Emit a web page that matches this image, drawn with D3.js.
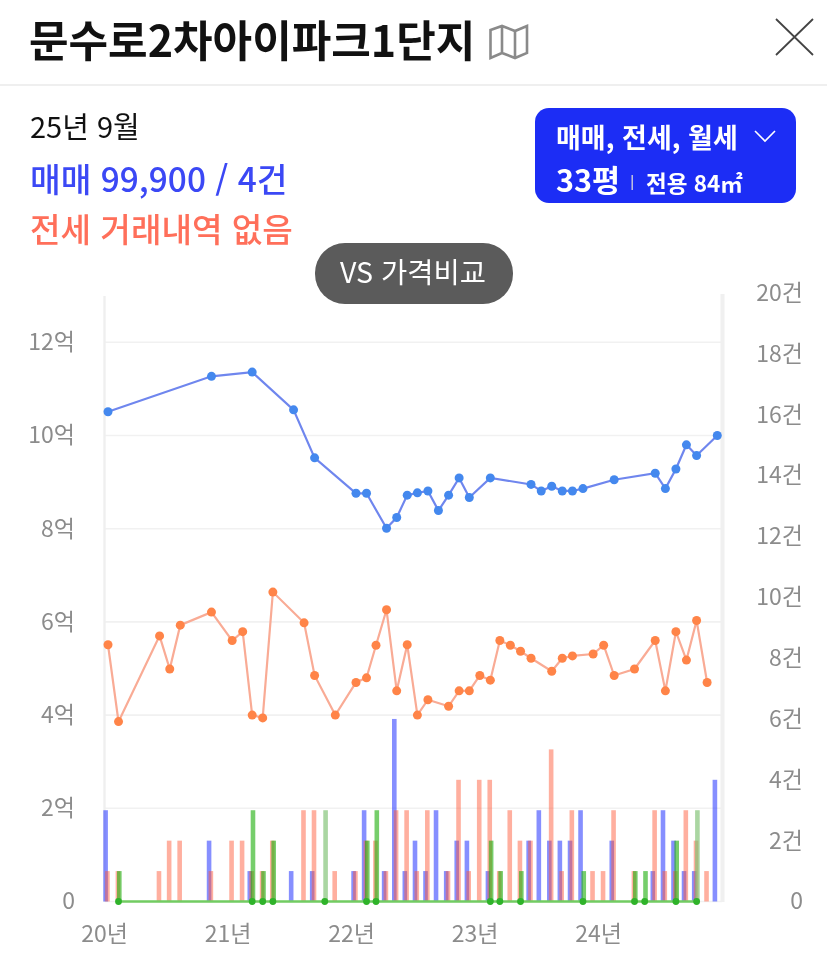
<!DOCTYPE html>
<html lang="ko">
<head>
<meta charset="utf-8">
<script src="https://cdn.jsdelivr.net/npm/d3@7"></script>
<style>
html,body{margin:0;padding:0;background:#fff;}
svg{display:block;font-family:"Noto Sans CJK KR","Noto Sans",sans-serif;filter:blur(.7px);}
</style>
</head>
<body>
<svg id="chart" width="827" height="977"></svg>
<script>
// months counted from 2020-01
const saleMonths=[0,10,14,18,20,24,25,27,28,29,30,31,32,33,34,35,37,41,42,43,44,45,46,49,53,54,55,56,57,59];
const salePrices=[10.51,11.27,11.36,10.55,9.52,8.76,8.76,8.01,8.24,8.72,8.77,8.81,8.39,8.72,9.09,8.67,9.09,8.95,8.81,8.91,8.81,8.81,8.86,9.05,9.19,8.86,9.28,9.80,9.57,10.0];
const saleCounts=[3,2,1,1,1,1,3,1,6,1,2,1,3,1,2,2,1,2,3,2,2,2,3,2,1,3,2,1,1,4];
const jeonseMonths=[0,1,5,6,7,10,12,13,14,15,16,19,20,22,24,25,26,27,28,29,30,31,33,34,35,36,37,38,39,40,41,43,44,45,47,48,49,51,53,54,55,56,57,58];
const jeonsePrices=[5.51,3.86,5.70,4.99,5.93,6.21,5.60,5.79,4.0,3.94,6.64,5.98,4.85,4.0,4.70,4.80,5.50,6.26,4.52,5.51,4.0,4.33,4.19,4.52,4.52,4.85,4.75,5.60,5.50,5.37,5.22,4.94,5.22,5.27,5.31,5.50,4.85,4.99,5.60,4.52,5.79,5.18,6.03,4.70];
const jeonseCounts=[1,1,1,2,2,1,2,2,1,1,2,3,3,1,1,2,2,1,3,3,1,3,1,4,1,4,4,1,3,2,2,5,1,3,1,1,3,1,3,1,1,3,2,1];
const rentMonths=[1,14,15,16,21,25,26,37,38,40,46,51,52,55,57];
const rentCounts=[1,3,1,2,3,2,3,2,1,1,1,1,1,2,3];
const rentPrices=[0,0,0,0,0,0,0,0,0,0,0,0,0,0,0];
const rentPaleMonths=[21,57];
const priceTicks=[0,2,4,6,8,10,12];
const countTicks=[0,2,4,6,8,10,12,14,16,18,20];
const yearTicks=[2020,2021,2022,2023,2024];

const svg=d3.select('#chart');
const monthDate=m=>new Date(2020,m,1);
const x=d3.scaleTime().domain([monthDate(0),monthDate(59)]).range([108,717.3]);
const yP=d3.scaleLinear().domain([0,13]).range([901.5,295.7]);
const yC=d3.scaleLinear().domain([0,20]).range([901.5,293]);
const BW=4.6;

// header
const txt=(s,px,py,size,fill,weight,anchor)=>svg.append('text').attr('x',px).attr('y',py).attr('font-size',size).attr('fill',fill).attr('font-weight',weight||400).attr('text-anchor',anchor||'start').text(s);
txt('문수로2차아이파크1단지',29,57,43,'#111',700);
svg.append('path').attr('d','M490.5 30 L502 26 L515 31 L527 26 L527 53 L515 58 L502 53 L490.5 58 Z M502 26 V53 M515 31 V58').attr('fill','none').attr('stroke','#8a8a8a').attr('stroke-width',2.6);
svg.append('path').attr('d','M776 19 L813 55 M813 19 L776 55').attr('stroke','#444').attr('stroke-width',1.8);
svg.append('rect').attr('x',0).attr('y',84).attr('width',827).attr('height',2).attr('fill','#efefef');
txt('25년 9월',30,138,29,'#111',400);
txt('매매 99,900 / 4건',30,192,33.4,'#3b48f5',500);
txt('전세 거래내역 없음',30,242,33.2,'#ff6f5a',500);
svg.append('rect').attr('x',535).attr('y',108).attr('width',261).attr('height',95).attr('rx',14).attr('fill','#1c2df5');
txt('매매, 전세, 월세',556,148,27,'#fff',700);
svg.append('path').attr('d','M755 131 L765 141 L775 131').attr('fill','none').attr('stroke','#fff').attr('stroke-width',1.6);
txt('33평',556,192,30.5,'#fff',700);
svg.append('rect').attr('x',631.5).attr('y',175).attr('width',1.4).attr('height',15).attr('fill','#ccd');
txt('전용 84㎡',646,192,22.5,'#fff',700);
svg.append('rect').attr('x',315).attr('y',243).attr('width',198).attr('height',61).attr('rx',30).attr('fill','#5b5b5b');
txt('VS 가격비교',340,283,28.5,'#fff',400);

// frame
const grid=svg.append('g');
grid.selectAll('line').data(priceTicks).join('line').attr('x1',105).attr('x2',722).attr('y1',d=>yP(d)).attr('y2',d=>yP(d)).attr('stroke','#f1f1f1').attr('stroke-width',1.6);
grid.append('line').attr('x1',104.5).attr('x2',104.5).attr('y1',296).attr('y2',902).attr('stroke','#efefef').attr('stroke-width',2.4);
grid.append('line').attr('x1',722.5).attr('x2',722.5).attr('y1',294).attr('y2',902).attr('stroke','#f0f0f0').attr('stroke-width',4);

// axes
const styleAxis=g=>{g.select('.domain').remove();g.selectAll('.tick line').remove();g.selectAll('text').attr('fill','#8c8c8c').attr('font-size',23).attr('font-family','"Noto Sans CJK KR"');};
svg.append('g').attr('transform','translate(75,0)').call(d3.axisLeft(yP).tickValues(priceTicks).tickSize(0).tickPadding(0).tickFormat(d=>d===0?'0':d+'억')).call(styleAxis);
svg.append('g').attr('transform','translate(803,0)').call(d3.axisLeft(yC).tickValues(countTicks).tickSize(0).tickPadding(0).tickFormat(d=>d===0?'0':d+'건')).call(styleAxis);
const xAxisScale=d3.scaleLinear().domain([2020,2024]).range([104,598]);
svg.append('g').attr('transform','translate(0,926)').call(d3.axisBottom(xAxisScale).tickValues(yearTicks).tickSize(0).tickPadding(0).tickFormat(d=>String(d).slice(2)+'년')).call(styleAxis).call(g=>g.selectAll('text').attr('dy','.71em'));

// bars
const bars=(months,counts,offset,fill,op)=>svg.append('g').selectAll('rect').data(months.map((m,i)=>({m,c:counts[i]}))).join('rect')
 .attr('x',d=>x(monthDate(d.m))+offset-BW/2).attr('width',BW).attr('y',d=>yC(d.c)).attr('height',d=>yC(0)-yC(d.c)).attr('fill',fill).attr('fill-opacity',op);
bars(saleMonths,saleCounts,-2.4,'#2233ff',.55);
bars(jeonseMonths,jeonseCounts,-.6,'#ff5533',.47);
const isPale=m=>rentPaleMonths.includes(m);
svg.append('g').selectAll('rect').data(rentMonths.map((m,i)=>({m,c:rentCounts[i]}))).join('rect')
 .attr('x',d=>x(monthDate(d.m))+.8-BW/2).attr('width',BW).attr('y',d=>yC(d.c)).attr('height',d=>yC(0)-yC(d.c))
 .attr('fill',d=>isPale(d.m)?'#7cc070':'#22b010').attr('fill-opacity',d=>isPale(d.m)?.65:.62);

// lines
const series=(months,vals,lineCol,dotCol,r,w)=>{
  const pts=months.map((m,i)=>({m,v:vals[i]}));
  const line=d3.line().x(d=>x(monthDate(d.m))).y(d=>yP(d.v));
  svg.append('path').datum(pts).attr('d',line).attr('fill','none').attr('stroke',lineCol).attr('stroke-width',w);
  svg.append('g').selectAll('circle').data(pts).join('circle').attr('cx',d=>x(monthDate(d.m))).attr('cy',d=>yP(d.v)).attr('r',r).attr('fill',dotCol);
};
series(rentMonths,rentPrices,'#72cc62','#2fb32a',3.4,2.4);
series(jeonseMonths,jeonsePrices,'#f9ab95','#ff8448',4.5,2.2);
series(saleMonths,salePrices,'#6f86ee','#4488ee',4.5,2.2);
</script>
</body>
</html>
